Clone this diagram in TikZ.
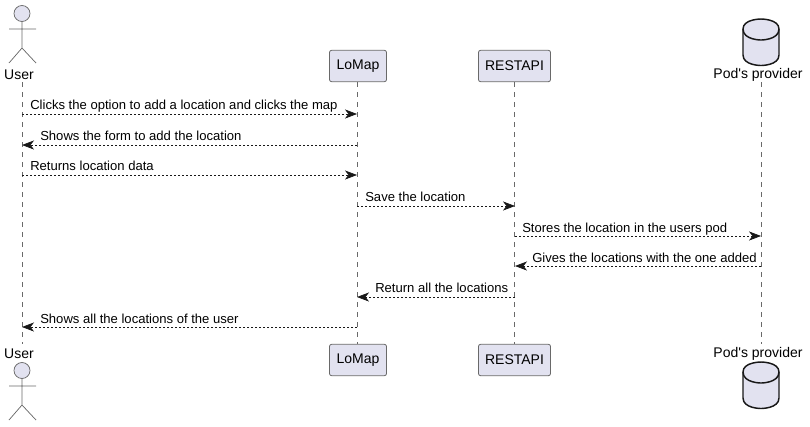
\documentclass[tikz,border=0pt]{standalone}
\usepackage{fontspec}
\setmainfont{Liberation Sans}
\usetikzlibrary{arrows.meta}
\definecolor{partfill}{HTML}{E2E2F0}
\definecolor{partline}{HTML}{181818}

\begin{document}
\begin{tikzpicture}[x=0.75pt, y=-0.75pt,
    every node/.style={font=\fontsize{10.5}{12}\selectfont, text=black, inner sep=0pt},
    part/.style={draw=partline!65, fill=partfill, rounded corners=1.5pt, line width=0.6pt, minimum height=23.5pt, anchor=center},
    actorline/.style={draw=partline!65, line width=0.55pt},
    dbline/.style={draw=partline, fill=partfill, line width=1.1pt},
    lifeline/.style={draw=partline!65, line width=0.45pt, dash pattern=on 3.75pt off 3.75pt},
    msg/.style={draw=partline, line width=0.5pt, dash pattern=on 1.5pt off 1.5pt, -{Stealth[length=9pt, width=6.8pt, inset=2.6pt]}},
    msglabel/.style={anchor=base west, font=\fontsize{9.8}{11}\selectfont}]
    \useasboundingbox (0,0) rectangle (810,426);

    % lifeline ends
    \coordinate (userTop) at (22,82);
    \coordinate (userBot) at (22,344);
    \coordinate (podTop) at (761,82);
    \coordinate (podBot) at (761,344);

    % participants
    \node[part, minimum width=42.7pt] (lomapTop) at (358,66) {LoMap};
    \node[part, minimum width=42.7pt] (lomapBot) at (358,360) {LoMap};
    \node[part, minimum width=54pt] (restTop) at (514.5,66) {RESTAPI};
    \node[part, minimum width=54pt] (restBot) at (514.5,360) {RESTAPI};
    \node (userLabelTop) at (19,75) {User};
    \node (userLabelBot) at (19,354) {User};
    \node (podLabelTop) at (758,75) {Pod\textquotesingle s provider};
    \node (podLabelBot) at (758,354) {Pod\textquotesingle s provider};

    % lifelines
    \draw[lifeline] (lomapTop.south -| 357,0) -- (lomapBot.north -| 357,0);
    \draw[lifeline] (restTop.south) -- (restBot.north);
    \draw[lifeline] (userTop) -- (userBot);
    \draw[lifeline] (podTop) -- (podBot);

    % actors
    \draw[actorline, fill=partfill] (22,13.5) circle (8);
    \draw[actorline] (22,21.5) -- (22,48) (9,29) -- (36,29) (9,63) -- (22,48) -- (36,63);
    \draw[actorline, fill=partfill] (22,370.5) circle (8);
    \draw[actorline] (22,378.5) -- (22,405) (9,386) -- (36,386) (9,420) -- (22,405) -- (36,420);

    % databases
    \draw[dbline] (743,29) .. controls (743,19) and (761,19) .. (761,19) .. controls (761,19) and (779,19) .. (779,29)
        -- (779,55) .. controls (779,65.5) and (761,65.5) .. (761,65.5) .. controls (761,65.5) and (743,65.5) .. (743,55) -- cycle;
    \draw[dbline, fill=none] (743,29) .. controls (743,40) and (761,40) .. (761,40) .. controls (761,40) and (779,40) .. (779,29);
    \draw[dbline] (743,372) .. controls (743,362) and (761,362) .. (761,362) .. controls (761,362) and (779,362) .. (779,372)
        -- (779,398) .. controls (779,408.5) and (761,408.5) .. (761,408.5) .. controls (761,408.5) and (743,408.5) .. (743,398) -- cycle;
    \draw[dbline, fill=none] (743,372) .. controls (743,383) and (761,383) .. (761,383) .. controls (761,383) and (779,383) .. (779,372);

    % message ends
    \coordinate (u1) at (22,114);   \coordinate (l1) at (357,114);
    \coordinate (u2) at (22,145);   \coordinate (l2) at (357,145);
    \coordinate (u3) at (22,175);   \coordinate (l3) at (357,175);
    \coordinate (l4) at (357,206);  \coordinate (r4) at (515,206);
    \coordinate (r5) at (515,236);  \coordinate (p5) at (761,236);
    \coordinate (r6) at (515,266);  \coordinate (p6) at (761,266);
    \coordinate (l7) at (357,297);  \coordinate (r7) at (515,297);
    \coordinate (u8) at (22,327);   \coordinate (l8) at (357,327);

    % messages
    \draw[msg] (u1) -- (l1);
    \draw[msg] (l2) -- (u2);
    \draw[msg] (u3) -- (l3);
    \draw[msg] (l4) -- (r4);
    \draw[msg] (r5) -- (p5);
    \draw[msg] (p6) -- (r6);
    \draw[msg] (r7) -- (l7);
    \draw[msg] (l8) -- (u8);

    % message labels
    \node[msglabel] (txt1) at (30,109) {Clicks the option to add a location and clicks the map};
    \node[msglabel] (txt2) at (40,140) {Shows the form to add the location};
    \node[msglabel] (txt3) at (30,170) {Returns location data};
    \node[msglabel] (txt4) at (365,201) {Save the location};
    \node[msglabel] (txt5) at (522,232) {Stores the location in the users pod};
    \node[msglabel] (txt6) at (532,262) {Gives the locations with the one added};
    \node[msglabel] (txt7) at (375,292) {Return all the locations};
    \node[msglabel] (txt8) at (40,323) {Shows all the locations of the user};
\end{tikzpicture}
\end{document}
